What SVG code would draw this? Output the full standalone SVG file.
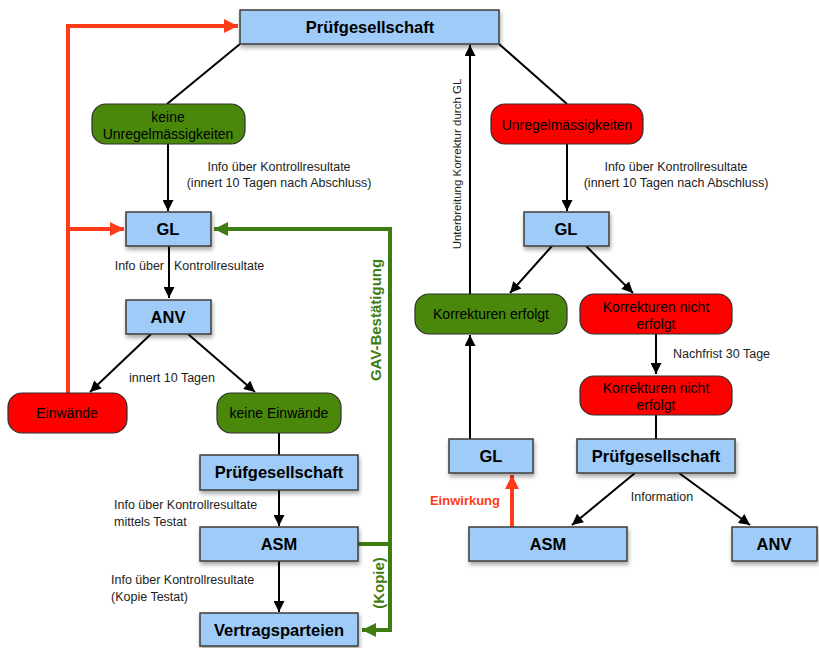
<svg xmlns="http://www.w3.org/2000/svg" width="819" height="648" viewBox="0 0 819 648">
<defs>
<filter id="sh" x="-10%" y="-10%" width="130%" height="150%"><feDropShadow dx="1" dy="3" stdDeviation="2" flood-color="#000" flood-opacity="0.35"/></filter>
<marker id="ab" viewBox="0 0 10 10" refX="10" refY="5" markerWidth="13" markerHeight="11" markerUnits="userSpaceOnUse" orient="auto"><path d="M0,0 L10,5 L0,10 z" fill="#000"/></marker>
<marker id="ar" viewBox="0 0 10 10" refX="10" refY="5" markerWidth="16" markerHeight="14" markerUnits="userSpaceOnUse" orient="auto"><path d="M0,0 L10,5 L0,10 z" fill="#ff3b1a"/></marker>
<marker id="ag" viewBox="0 0 10 10" refX="10" refY="5" markerWidth="18" markerHeight="14" markerUnits="userSpaceOnUse" orient="auto"><path d="M0,0 L10,5 L0,10 z" fill="#3f7d12"/></marker>
</defs>
<style>
.box{fill:#9ecbf7;stroke:#3c3c3c;stroke-width:1.5;filter:url(#sh)}
.grn{fill:#4a880c;stroke:#2e2e2e;stroke-width:1.2}
.red{fill:#ff0000;stroke:#2e2e2e;stroke-width:1.2}
.bt{font-family:"Liberation Sans",Arial,sans-serif;font-weight:bold;font-size:16.5px;fill:#000;text-anchor:middle}
.nt{font-family:"Liberation Sans",Arial,sans-serif;font-size:14px;fill:#000;text-anchor:middle}
.lb{font-family:"Liberation Sans",Arial,sans-serif;font-size:12.5px;fill:#222}
.c{stroke:#000;stroke-width:2;fill:none}
.cr{stroke:#ff3b1a;stroke-width:4;fill:none}
.cg{stroke:#3f7d12;stroke-width:4;fill:none}
.gt{font-family:"Liberation Sans",Arial,sans-serif;font-weight:bold;font-size:15px;fill:#3f7d12}
</style>
<g id="connectors">
<path class="c" d="M240,44 L167,104"/>
<path class="c" d="M499,44 L567,104"/>
<path class="c" d="M168,144 L168,211" marker-end="url(#ab)"/>
<path class="c" d="M567,144 L567,211" marker-end="url(#ab)"/>
<path class="c" d="M169,246 L169,298" marker-end="url(#ab)"/>
<path class="c" d="M151,334 L90,392" marker-end="url(#ab)"/>
<path class="c" d="M188,334 L255,392" marker-end="url(#ab)"/>
<path class="c" d="M279,433 L279,455"/>
<path class="c" d="M279,490 L279,526" marker-end="url(#ab)"/>
<path class="c" d="M279,561 L279,612" marker-end="url(#ab)"/>
<path class="c" d="M552,246 L510,293" marker-end="url(#ab)"/>
<path class="c" d="M586,246 L633,293" marker-end="url(#ab)"/>
<path class="c" d="M656,334 L656,374" marker-end="url(#ab)"/>
<path class="c" d="M656,415 L656,439"/>
<path class="c" d="M470,439 L470,335" marker-end="url(#ab)"/>
<path class="c" d="M470,294 L470,45" marker-end="url(#ab)"/>
<path class="c" d="M635,473 L572,525" marker-end="url(#ab)"/>
<path class="c" d="M679,473 L750,525" marker-end="url(#ab)"/>
<path class="cr" d="M68,393 L68,26 L238,26" marker-end="url(#ar)"/>
<path class="cr" d="M68,229 L124,229" marker-end="url(#ar)"/>
<path class="cr" d="M512,527 L512,475" marker-end="url(#ar)"/>
<path class="cg" d="M358,544 L390,544 L390,229 L214,229" marker-end="url(#ag)"/>
<path class="cg" d="M390,544 L390,630 L362,630" marker-end="url(#ag)"/>
<text class="lb" x="279" y="171" text-anchor="middle">Info über Kontrollresultate</text>
<text class="lb" x="279" y="187" text-anchor="middle">(innert 10 Tagen nach Abschluss)</text>
<text class="lb" x="676" y="171" text-anchor="middle">Info über Kontrollresultate</text>
<text class="lb" x="676" y="187" text-anchor="middle">(innert 10 Tagen nach Abschluss)</text>
<text class="lb" x="164" y="270" text-anchor="end">Info über</text>
<text class="lb" x="174" y="270">Kontrollresultate</text>
<text class="lb" x="172" y="382" text-anchor="middle">innert 10 Tagen</text>
<text class="lb" x="114" y="509">Info über Kontrollresultate</text>
<text class="lb" x="114" y="526">mittels Testat</text>
<text class="lb" x="111" y="584">Info über Kontrollresultate</text>
<text class="lb" x="111" y="601">(Kopie Testat)</text>
<text class="lb" x="673" y="358">Nachfrist 30 Tage</text>
<text class="lb" x="662" y="501" text-anchor="middle">Information</text>
<text class="lb" transform="translate(461,164) rotate(-90)" text-anchor="middle" style="font-size:11.5px">Unterbreitung Korrektur durch GL</text>
<text class="gt" transform="translate(381,320) rotate(-90)" text-anchor="middle">GAV-Bestätigung</text>
<text class="gt" transform="translate(384,583) rotate(-90)" text-anchor="middle">(Kopie)</text>
<text x="500" y="505" text-anchor="end" style="font-family:'Liberation Sans',Arial,sans-serif;font-weight:bold;font-size:13px;fill:#ff3b1a">Einwirkung</text>
</g>
<g id="pg_top"><rect class="box" x="240" y="10" width="259" height="34"/><text class="bt" x="370" y="33">Prüfgesellschaft</text></g>
<g id="keine_unreg"><rect class="grn" x="92" y="104" width="153" height="40" rx="14"/><text class="nt" x="168" y="122">keine</text><text class="nt" x="168" y="139">Unregelmässigkeiten</text></g>
<g id="unreg"><rect class="red" x="491" y="104" width="152" height="40" rx="14"/><text class="nt" x="567" y="130">Unregelmässigkeiten</text></g>
<g id="gl_left"><rect class="box" x="126" y="212" width="85" height="34"/><text class="bt" x="168" y="235">GL</text></g>
<g id="gl_right"><rect class="box" x="524" y="212" width="85" height="34"/><text class="bt" x="566" y="235">GL</text></g>
<g id="anv_left"><rect class="box" x="126" y="300" width="85" height="34"/><text class="bt" x="168" y="323">ANV</text></g>
<g id="einwaende"><rect class="red" x="8" y="393" width="119" height="40" rx="14"/><text class="nt" x="67" y="418">Einwände</text></g>
<g id="keine_einwaende"><rect class="grn" x="217" y="393" width="124" height="40" rx="14"/><text class="nt" x="279" y="418">keine Einwände</text></g>
<g id="pg_mid"><rect class="box" x="200" y="455" width="158" height="35" /><text class="bt" x="279" y="478">Prüfgesellschaft</text></g>
<g id="asm_left"><rect class="box" x="200" y="527" width="158" height="34"/><text class="bt" x="279" y="550">ASM</text></g>
<g id="vertrag"><rect class="box" x="200" y="613" width="158" height="33"/><text class="bt" x="279" y="636">Vertragsparteien</text></g>
<g id="korr_ok"><rect class="grn" x="415" y="294" width="152" height="40" rx="14"/><text class="nt" x="491" y="319">Korrekturen erfolgt</text></g>
<g id="korr_nicht1"><rect class="red" x="580" y="294" width="152" height="40" rx="14"/><text class="nt" x="656" y="312">Korrekturen nicht</text><text class="nt" x="656" y="329">erfolgt</text></g>
<g id="korr_nicht2"><rect class="red" x="580" y="376" width="152" height="39" rx="14"/><text class="nt" x="656" y="393">Korrekturen nicht</text><text class="nt" x="656" y="410">erfolgt</text></g>
<g id="gl_low"><rect class="box" x="449" y="439" width="84" height="34"/><text class="bt" x="491" y="462">GL</text></g>
<g id="pg_right"><rect class="box" x="577" y="439" width="158" height="34"/><text class="bt" x="656" y="462">Prüfgesellschaft</text></g>
<g id="asm_right"><rect class="box" x="469" y="527" width="158" height="34"/><text class="bt" x="548" y="550">ASM</text></g>
<g id="anv_right"><rect class="box" x="732" y="527" width="85" height="34"/><text class="bt" x="774" y="550">ANV</text></g>
</svg>
